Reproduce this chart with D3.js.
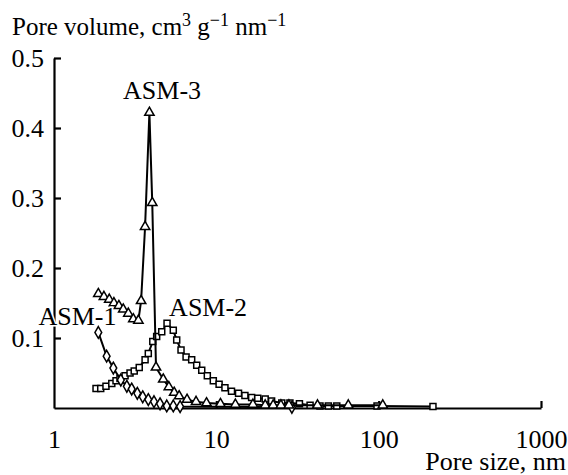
<!DOCTYPE html>
<html>
<head>
<meta charset="utf-8">
<script src="https://cdn.jsdelivr.net/npm/d3@7"></script>
<style>
  body { margin: 0; background: #fff; }
  svg { display: block; }
  text { font-family: "Liberation Serif", "Times New Roman", serif !important; }
</style>
</head>
<body>
<div id="chart"></div>
<script>
// pore size distributions
const asm1Size = [1.875, 2.11, 2.32, 2.58, 2.81, 3.01, 3.26, 3.52, 3.81, 4.13, 4.5, 4.95, 5.43, 5.98, 29.2]
const asm1Vol = [0.108, 0.074, 0.057, 0.040, 0.031, 0.027, 0.021, 0.016, 0.012, 0.009, 0.006, 0.003, 0.003, 0.002, 0.001]

const asm2Size = [1.815, 1.94, 2.09, 2.27, 2.41, 2.55, 2.74, 2.94, 3.12, 3.35, 3.64, 3.81, 4.06, 4.29, 4.61, 4.97,
  5.43, 5.7, 6.06, 6.51, 7.05, 7.57, 8.13, 8.8, 9.58, 10.4, 11.3, 12.4, 13.7, 15.0, 16.5, 18.0, 20.0, 21.9,
  25.3, 28.4, 32.5, 37.8, 43.5, 49.0, 55.2, 97.7, 216]
const asm2Vol = [0.028, 0.028, 0.031, 0.035, 0.039, 0.042, 0.046, 0.050, 0.053, 0.058, 0.069, 0.078, 0.095, 0.102, 0.109, 0.121,
  0.111, 0.097, 0.083, 0.073, 0.069, 0.061, 0.054, 0.046, 0.039, 0.034, 0.029, 0.024, 0.021, 0.018, 0.015, 0.014, 0.013, 0.010,
  0.007, 0.007, 0.006, 0.004, 0.003, 0.003, 0.003, 0.003, 0.002]

const asm3Size = [1.875, 2.03, 2.19, 2.34, 2.51, 2.67, 2.87, 3.08, 3.31, 3.44, 3.64, 3.87, 4.03, 4.25, 4.71, 5.1, 5.5,
  5.9, 6.6, 7.5, 8.7, 10.6, 13.1, 16.8, 20, 22.4, 25, 28, 42, 65, 106]
const asm3Vol = [0.163, 0.159, 0.155, 0.150, 0.146, 0.141, 0.135, 0.127, 0.125, 0.153, 0.259, 0.422, 0.293, 0.058, 0.041, 0.030, 0.022,
  0.017, 0.012, 0.009, 0.007, 0.006, 0.005, 0.005, 0.004, 0.004, 0.004, 0.004, 0.004, 0.004, 0.004]

const xTicks = [1, 10, 100, 1000]
const yTicks = [0.1, 0.2, 0.3, 0.4, 0.5]

const W = 568, H = 475
const MARGIN = { TOP: 58, BOTTOM: 67, LEFT: 54, RIGHT: 27 }
const FONT = "Liberation Serif, Times New Roman, serif"

const svg = d3.select("#chart").append("svg")
    .attr("width", W)
    .attr("height", H)
    .attr("font-family", FONT)

const x = d3.scaleLog().domain([1, 1000]).range([MARGIN.LEFT, W - MARGIN.RIGHT])
const y = d3.scaleLinear().domain([0, 0.5]).range([H - MARGIN.BOTTOM, MARGIN.TOP])

const xAxis = svg.append("g")
    .attr("transform", `translate(0, ${y(0)})`)
    .call(d3.axisBottom(x).tickValues(xTicks).tickFormat(d3.format("d")).tickSizeInner(-7).tickSizeOuter(0))
    .attr("font-family", FONT)
    .attr("font-size", 26)
xAxis.selectAll("text").attr("y", 22).attr("dy", "0.71em").attr("fill", "#000")
xAxis.selectAll(".tick").filter(d => d === 1).select("line").remove()

const yAxis = svg.append("g")
    .attr("transform", `translate(${x(1)}, 0)`)
    .call(d3.axisLeft(y).tickValues(yTicks).tickFormat(d3.format(".1f")).tickSizeInner(-7).tickSizeOuter(0))
    .attr("font-family", FONT)
    .attr("font-size", 26)
yAxis.selectAll("text").attr("x", -10).attr("fill", "#000")

svg.selectAll(".domain, .tick line").attr("stroke", "#000").attr("stroke-width", 2.2)

// series
const series = [
    { name: "ASM-2", size: asm2Size, vol: asm2Vol, sym: d3.symbolSquare, area: 36 },
    { name: "ASM-1", size: asm1Size, vol: asm1Vol, sym: d3.symbolDiamond, area: 40 },
    { name: "ASM-3", size: asm3Size, vol: asm3Vol, sym: d3.symbolTriangle, area: 38 }
]

const line = d3.line().x(d => x(d[0])).y(d => y(d[1]))

series.forEach(s => {
    const pts = s.size.map((v, i) => [v, s.vol[i]])
    svg.append("path")
        .datum(pts)
        .attr("d", line)
        .attr("fill", "none")
        .attr("stroke", "#000")
        .attr("stroke-width", 2)
    svg.append("g").selectAll("path")
        .data(pts)
        .join("path")
        .attr("transform", d => `translate(${x(d[0])}, ${y(d[1])})`)
        .attr("d", d3.symbol().type(s.sym).size(s.area))
        .attr("fill", "#fff")
        .attr("stroke", "#000")
        .attr("stroke-width", 1.5)
})

// labels
const labels = [
    { text: "ASM-3", x: 4.63, y: 0.441 },
    { text: "ASM-2", x: 8.9, y: 0.131 },
    { text: "ASM-1", x: 1.396, y: 0.119 }
]
svg.append("g").selectAll("text")
    .data(labels)
    .join("text")
    .attr("x", d => x(d.x))
    .attr("y", d => y(d.y))
    .attr("text-anchor", "middle")
    .attr("font-size", 26)
    .attr("stroke", "#fff")
    .attr("stroke-width", 3)
    .attr("paint-order", "stroke")
    .text(d => d.text)

// axis titles
const yTitle = svg.append("text")
    .attr("x", 12)
    .attr("y", 35)
    .attr("font-size", 25)
yTitle.append("tspan").text("Pore volume, cm")
yTitle.append("tspan").attr("font-size", 18).attr("dy", -9).text("3")
yTitle.append("tspan").attr("dy", 9).text(" g")
yTitle.append("tspan").attr("font-size", 18).attr("dy", -9).text("\u22121")
yTitle.append("tspan").attr("dy", 9).text(" nm")
yTitle.append("tspan").attr("font-size", 18).attr("dy", -9).text("\u22121")

svg.append("text")
    .attr("x", 566)
    .attr("y", 470)
    .attr("text-anchor", "end")
    .attr("font-size", 26)
    .text("Pore size, nm")
</script>
</body>
</html>
